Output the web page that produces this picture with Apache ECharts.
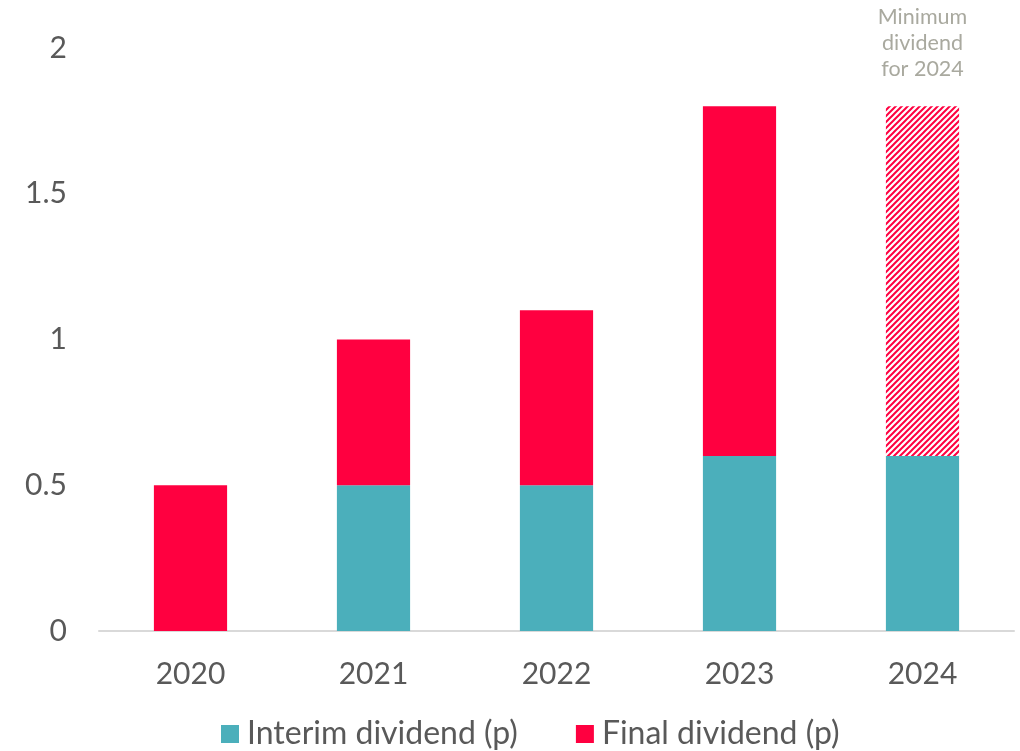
<!DOCTYPE html>
<html><head><meta charset="utf-8">
<script src="https://cdn.jsdelivr.net/npm/echarts@6/dist/echarts.min.js"></script>
<style>html,body{margin:0;padding:0;background:#fff}#c{width:1020px;height:751px}</style>
</head><body><div id="c"></div>
<script>
const categories = ['2020','2021','2022','2023','2024'];
const interim = [0, 0.5, 0.5, 0.6, 0.6];
const finalDiv = [0.5, 0.5, 0.6, 1.2, null];
const minimum = [null, null, null, null, 1.2];
const yTicks = [0, 0.5, 1, 1.5, 2];

const pc = document.createElement('canvas');
pc.width = 6; pc.height = 6;
const g = pc.getContext('2d');
g.fillStyle = '#fff'; g.fillRect(0,0,6,6);
g.strokeStyle = '#FF0040'; g.lineWidth = 2;
g.beginPath();
g.moveTo(-1,7); g.lineTo(7,-1);
g.moveTo(-4,4); g.lineTo(4,-4);
g.moveTo(2,10); g.lineTo(10,2);
g.stroke();

const chart = echarts.init(document.getElementById('c'));
const font = 'Lato, "Open Sans", sans-serif';
chart.setOption({
  animation: false,
  textStyle: {fontFamily: font},
  grid: {left: 99, right: 6, top: 48, bottom: 120, containLabel: false},
  legend: {
    data: ['Interim dividend (p)', 'Final dividend (p)'],
    bottom: -4, left: 216, itemWidth: 18, itemHeight: 18, itemGap: 58,
    icon: 'rect',
    textStyle: {fontSize: 32, color: '#595959', fontFamily: font, padding: [0,0,0,3]}
  },
  xAxis: {
    type: 'category', data: categories,
    axisLine: {lineStyle: {color: '#D9D9D9', width: 2}},
    axisTick: {show: false},
    axisLabel: {fontSize: 30, color: '#595959', margin: 28, fontFamily: font}
  },
  yAxis: {
    type: 'value', min: yTicks[0], max: yTicks[yTicks.length-1], interval: 0.5,
    splitLine: {show: false}, axisLine: {show: false}, axisTick: {show: false},
    axisLabel: {fontSize: 30, color: '#595959', margin: 32, fontFamily: font}
  },
  series: [
    {name: 'Interim dividend (p)', type: 'bar', stack: 'd', data: interim, barWidth: '40%',
     itemStyle: {color: '#4BAFBB'}},
    {name: 'Final dividend (p)', type: 'bar', stack: 'd', data: finalDiv,
     itemStyle: {color: '#FF0040'}},
    {name: 'Minimum', type: 'bar', stack: 'd', data: minimum,
     itemStyle: {color: {image: pc, repeat: 'repeat'}},
     label: {show: true, position: 'top', distance: 24,
       formatter: 'Minimum\ndividend\nfor 2024',
       color: '#A9A99F', fontSize: 21.5, lineHeight: 26, fontFamily: font}}
  ]
});
</script></body></html>
